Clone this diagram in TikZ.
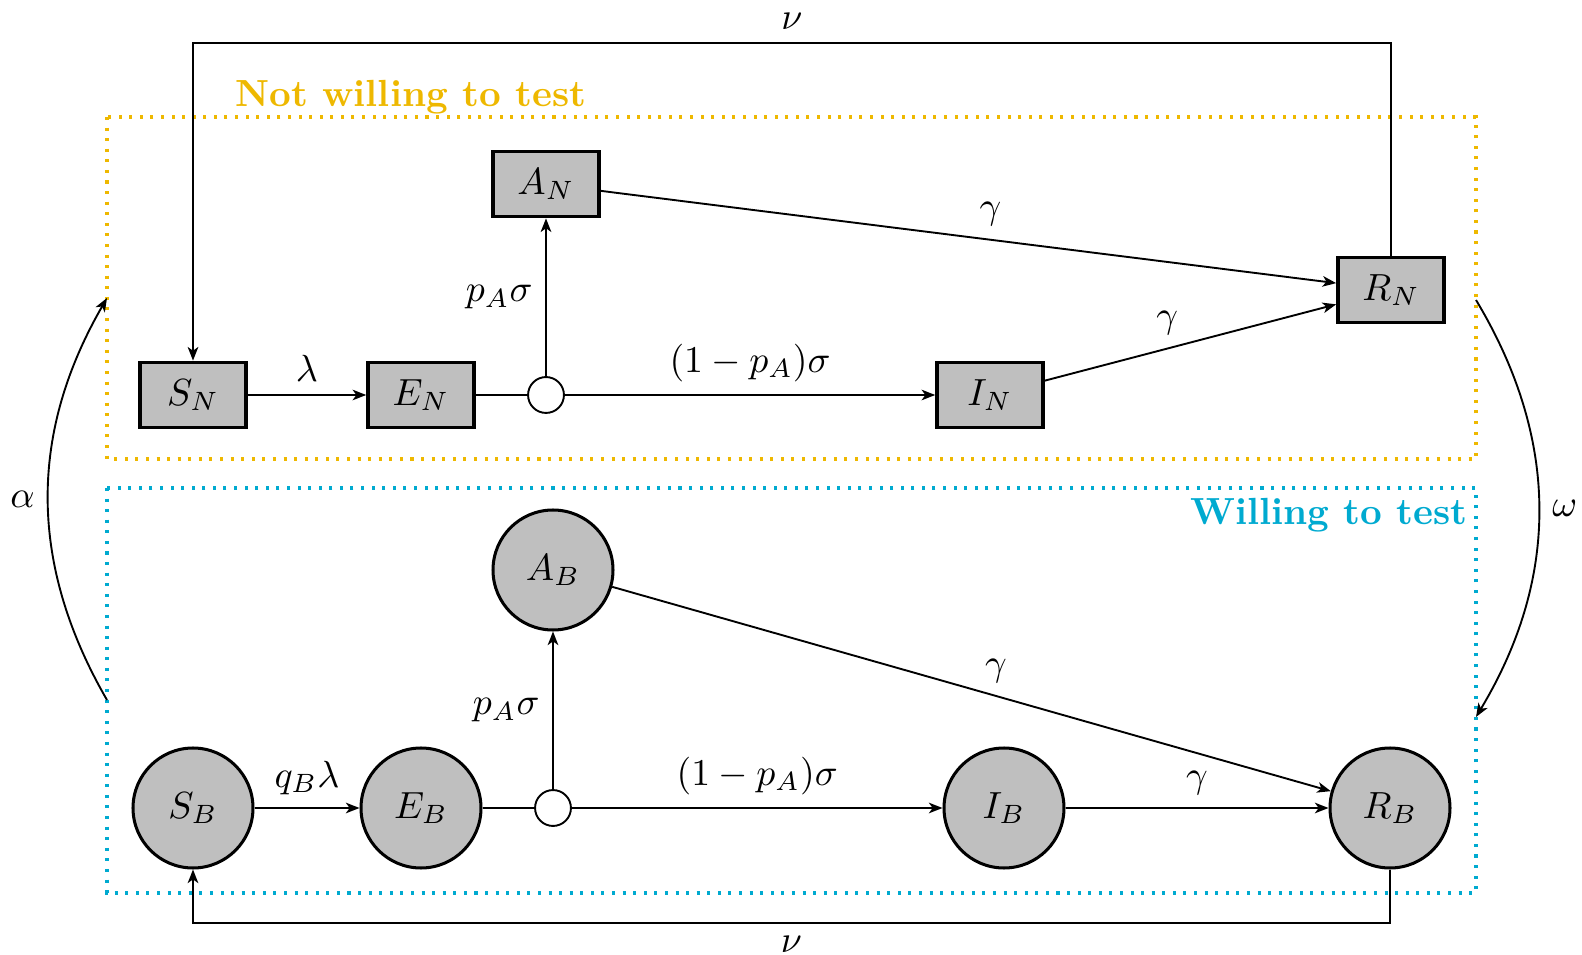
\documentclass[tikz,border=0pt]{standalone}
\usetikzlibrary{arrows.meta}
\definecolor{nyel}{RGB}{238,184,0}
\definecolor{wcyan}{RGB}{0,170,208}
\begin{document}
\begin{tikzpicture}[x=0.2646pt,y=-0.2646pt,
  rbox/.style={draw,line width=1pt,fill=gray!50,minimum width=28pt,minimum height=17.2pt,inner sep=0pt},
  cbox/.style={draw,circle,thick,fill=gray!50,minimum size=31.75pt,inner sep=0pt},
  junc/.style={draw,circle,line width=0.5pt,fill=white,minimum size=9.5pt,inner sep=0pt},
  conn/.style={line width=0.5pt},
  arr/.style={line width=0.5pt,-{Stealth[length=3.6pt,width=2.8pt,inset=1pt]}},
  grp/.style={thick,dotted}]
\useasboundingbox (0,0) rectangle (1582,955);
% group boxes
\draw[grp,nyel] (107,117) rectangle (1476,459);
\draw[grp,wcyan] (107,488) rectangle (1476,893);
\node[anchor=base west,text=nyel,font=\bfseries] (tN) at (222,107) {Not willing to test};
\node[anchor=base east,text=wcyan,font=\bfseries] (tB) at (1481,524) {Willing to test};
% N row
\node[rbox] (SN) at (193,395) {$S_N$};
\node[rbox] (EN) at (421,395) {$E_N$};
\node[junc] (cN) at (546,395) {};
\node[rbox] (AN) at (546,184) {$A_N$};
\node[rbox] (IN) at (990,395) {$I_N$};
\node[rbox] (RN) at (1391,290) {$R_N$};
% B row
\node[cbox] (SB) at (193,808) {$S_B$};
\node[cbox] (EB) at (421,808) {$E_B$};
\node[junc] (cB) at (553,808) {};
\node[cbox] (AB) at (553,570) {$A_B$};
\node[cbox] (IB) at (1004,808) {$I_B$};
\node[cbox] (RB) at (1390,808) {$R_B$};
% N connectors
\draw[arr] (SN) -- node[above]{$\lambda$} (EN);
\draw[conn] (EN) -- (cN);
\draw[arr] (cN) -- node[left]{$p_A\sigma$} (AN);
\draw[arr] (cN) -- node[above]{$(1-p_A)\sigma$} (IN);
\draw[arr] (AN) -- node[pos=0.53,above]{$\gamma$} (RN);
\draw[arr] (IN) -- node[pos=0.42,above]{$\gamma$} (RN);
% B connectors
\draw[arr] (SB) -- node[above]{$q_B\lambda$} (EB);
\draw[conn] (EB) -- (cB);
\draw[arr] (cB) -- node[left]{$p_A\sigma$} (AB);
\draw[arr] (cB) -- node[above]{$(1-p_A)\sigma$} (IB);
\draw[arr] (AB) -- node[pos=0.534,above]{$\gamma$} (RB);
\draw[arr] (IB) -- node[above]{$\gamma$} (RB);
% waning loops
\coordinate (topy) at (0,43);
\coordinate (boty) at (0,923);
\draw[arr] (RN.north) |- node[pos=0.75,above]{$\nu$} (SN.north |- topy) -- (SN.north);
\draw[arr] (RB.south) |- node[pos=0.75,below]{$\nu$} (SB.south |- boty) -- (SB.south);
% switching arcs
\coordinate (aS) at (107,700);
\coordinate (aE) at (107,298);
\coordinate (oS) at (1476,300);
\coordinate (oE) at (1476,717);
\draw[arr] (aS) to[bend left=30] node[left]{$\alpha$} (aE);
\draw[arr] (oS) to[bend left=31] node[right]{$\omega$} (oE);
\end{tikzpicture}
\end{document}
